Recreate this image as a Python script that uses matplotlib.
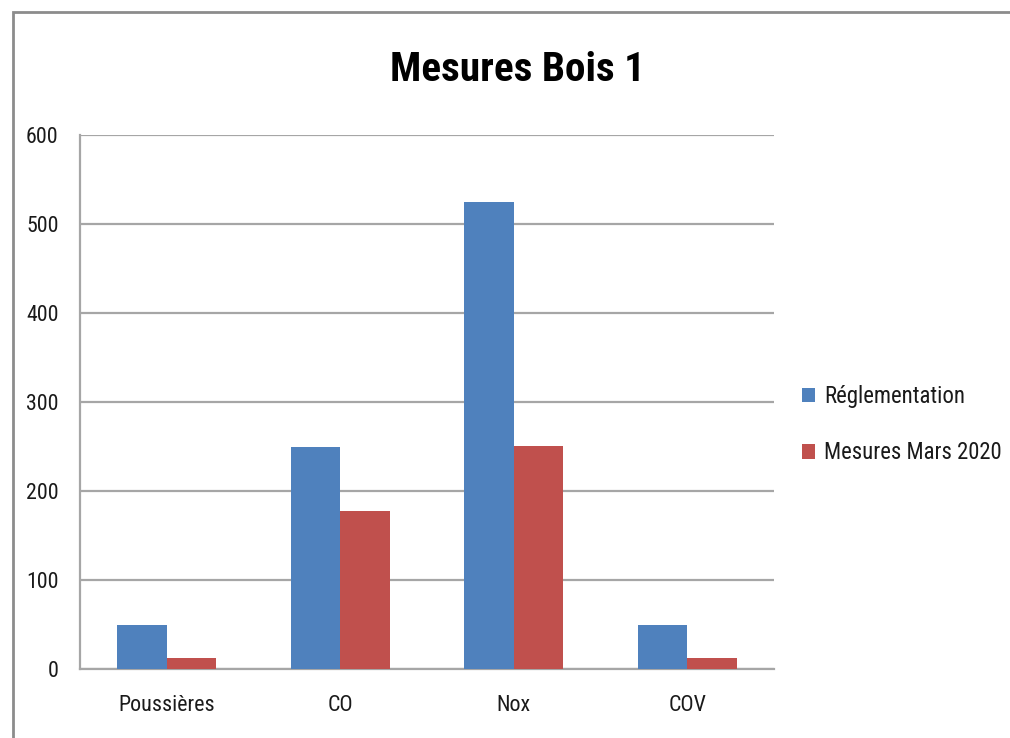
import matplotlib
matplotlib.use("Agg")
import matplotlib.pyplot as plt
import numpy as np
from matplotlib.patches import Rectangle
from matplotlib import font_manager

categories = ["Poussières", "CO", "Nox", "COV"]
reglementation = [50, 250, 525, 50]
mesures_mars_2020 = [12, 178, 251, 12]
series_labels = ["Réglementation", "Mesures Mars 2020"]
yticks = [0, 100, 200, 300, 400, 500, 600]

# pick a narrow font if one is installed
ttf = font_manager.fontManager.ttflist
names = {f.name for f in ttf}
family = None
stretch = "normal"
for cand in ["Liberation Sans Narrow", "Roboto Condensed", "Open Sans Condensed",
             "DejaVu Sans Condensed", "Noto Sans Condensed"]:
    if cand in names:
        family = cand
        break
if family is None:
    for fam_try in ["Open Sans", "Roboto", "Noto Sans", "DejaVu Sans"]:
        if any(f.name == fam_try and str(f.stretch) in ("condensed", "semi-condensed", "extra-condensed", "75", "87.5")
               for f in ttf):
            family = fam_try
            stretch = "condensed"
            break
if family is None:
    family = "Liberation Sans" if "Liberation Sans" in names else "DejaVu Sans"
plt.rcParams['font.family'] = [family, 'DejaVu Sans']
plt.rcParams['font.stretch'] = stretch

blue = "#4F81BD"
red = "#C0504D"
grid = "#A6A6A6"
txt = "#1a1a1a"

fig = plt.figure(figsize=(10.10, 7.38), dpi=100)
ax = fig.add_axes([80/1010, 69/738, (774-80)/1010, (669-135)/738])

x = np.arange(len(categories))
w = 1/3.5
ax.bar(x - w/2, reglementation, width=w, color=blue, label=series_labels[0], zorder=3)
ax.bar(x + w/2, mesures_mars_2020, width=w, color=red, label=series_labels[1], zorder=3)

ax.set_xlim(-0.5, len(categories) - 0.5)
ax.set_ylim(0, 600)
ax.set_yticks(yticks)
ax.set_yticklabels([str(t) for t in yticks], fontsize=16, color=txt)
ax.set_xticks(x)
ax.set_xticklabels(categories, fontsize=16, color=txt)
ax.tick_params(axis='y', length=0, pad=15.5)
ax.tick_params(axis='x', length=0, pad=19)
ax.yaxis.grid(True, color=grid, linewidth=1.6, zorder=0)
for s in ["top", "right"]:
    ax.spines[s].set_visible(False)
for s in ["left", "bottom"]:
    ax.spines[s].set_color(grid)
    ax.spines[s].set_linewidth(1.6)

title = fig.text(517/1010, 1 - 70/738, "Mesures Bois 1", ha="center", va="center",
                 fontsize=31, fontweight="bold", color="black")

leg = fig.legend(loc="upper left", bbox_to_anchor=(802/1010, 1 - 385/738),
                 frameon=False, fontsize=16, handlelength=0.6, handleheight=0.6,
                 handletextpad=0.4, labelspacing=1.5, borderpad=0, borderaxespad=0)
for t in leg.get_texts():
    t.set_color(txt)

# fit text widths to the reference (text stays real text)
fig.canvas.draw()
r = fig.canvas.get_renderer()

def fit(texts, target_px, base):
    wpx = texts[0].get_window_extent(r).width
    s = base * target_px / wpx
    s = (s * base) ** 0.5 if s < base else s
    for t in texts:
        t.set_fontsize(s)
    return s

fit([title], 244, 31)
fit(ax.get_yticklabels()[::-1][:1] + ax.get_yticklabels()[:-1], 32, 16)
fit([ax.get_xticklabels()[0]] + ax.get_xticklabels()[1:], 96, 16)
fit(leg.get_texts(), 141, 16)

# outer border (top and left visible)
fig.add_artist(Rectangle((12.5/1010, -0.1), 1.2, 1 - 12.5/738 + 0.1,
                         transform=fig.transFigure, fill=False,
                         edgecolor="#8c8c8c", linewidth=2))

fig.savefig("out.png", dpi=100)
